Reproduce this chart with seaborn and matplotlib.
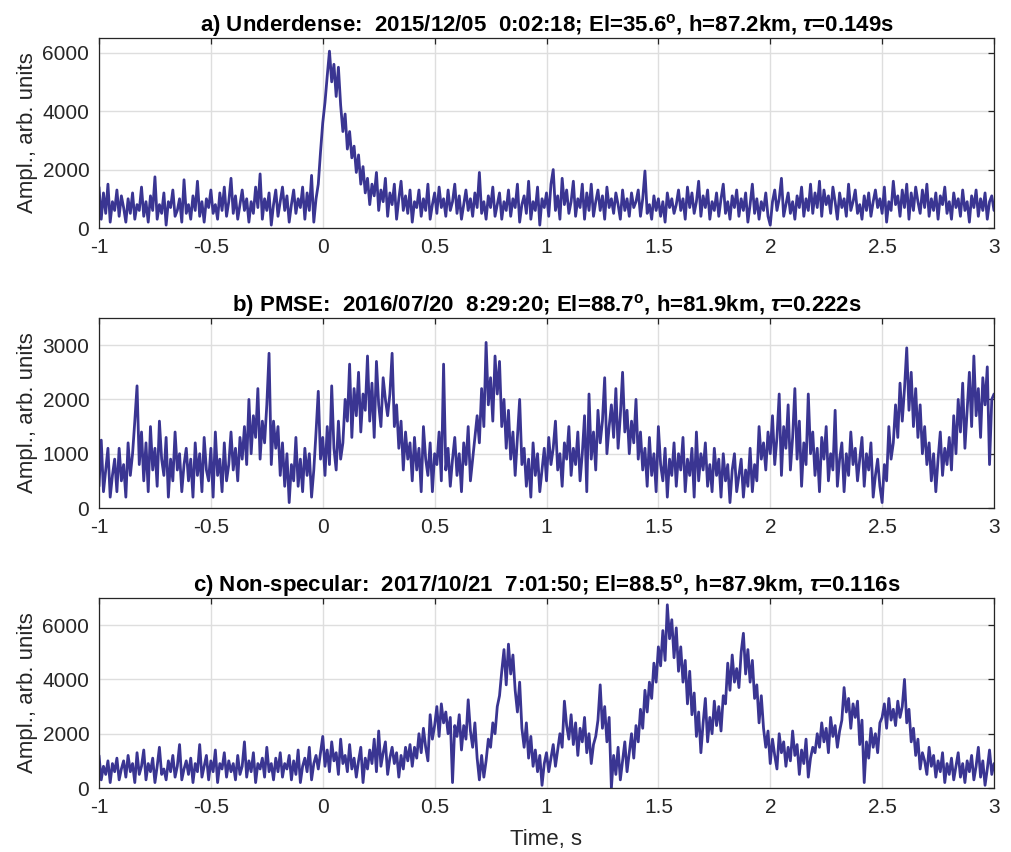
import numpy as np
import pandas as pd
import matplotlib
matplotlib.use("Agg")
import matplotlib.pyplot as plt
import seaborn as sns

# ---------------- data (0.01 s step from -1 s) -------------
time_start = -1.0
time_step = 0.01

ampl_underdense = [
    1400, 300, 1200, 500, 1500, 200, 900, 600, 1300, 400, 1100, 700, 200, 1000, 500, 1200, 300, 800, 600, 1400,
    400, 900, 200, 1100, 600, 1750, 300, 800, 500, 1200, 100, 900, 700, 1300, 400, 600, 1000, 200, 1650, 500,
    800, 300, 1100, 600, 1600, 400, 900, 200, 1000, 700, 1300, 500, 800, 300, 1200, 600, 1400, 400, 900, 1700,
    500, 1100, 300, 800, 1300, 600, 1000, 200, 900, 500, 1400, 700, 1850, 300, 1000, 600, 1200, 100, 800, 1300,
    400, 900, 1400, 600, 1100, 200, 800, 1300, 500, 1000, 700, 1400, 300, 1200, 600, 1800, 200, 1000, 1500, 2600,
    3600, 4300, 5200, 6050, 5000, 5600, 4500, 5500, 4200, 3300, 3900, 2700, 3300, 2400, 2800, 1900, 2500, 1500, 2100, 1200,
    1700, 800, 1500, 1100, 1900, 600, 1300, 900, 1700, 400, 1200, 800, 1500, 300, 1000, 1600, 600, 1100, 500, 1300,
    200, 900, 700, 1300, 400, 1000, 600, 1500, 300, 800, 1200, 500, 1400, 700, 1000, 400, 1300, 600, 900, 1500,
    500, 1100, 300, 800, 1300, 600, 1000, 400, 1200, 700, 1900, 500, 900, 300, 1100, 700, 1400, 400, 800, 1200,
    300, 900, 600, 1300, 400, 1000, 700, 1500, 200, 800, 1100, 500, 1600, 300, 900, 600, 1400, 100, 1000, 700,
    1200, 400, 1500, 2000, 600, 1100, 300, 1700, 800, 1300, 500, 900, 1600, 400, 1000, 700, 1500, 300, 1200, 600,
    1500, 400, 900, 1300, 600, 1100, 300, 1400, 700, 1000, 500, 1200, 800, 300, 1300, 600, 1000, 400, 1200, 700,
    900, 1300, 400, 1000, 1950, 500, 800, 300, 1100, 600, 1000, 400, 900, 200, 1200, 700, 1000, 500, 800, 1300,
    600, 1000, 300, 1400, 700, 1200, 500, 900, 1600, 400, 1100, 700, 1300, 300, 900, 600, 1200, 400, 1000, 1500,
    500, 900, 300, 1100, 700, 1300, 400, 1000, 600, 1200, 200, 800, 1500, 500, 1000, 300, 900, 600, 1200, 400,
    100, 900, 1300, 600, 1000, 1700, 400, 800, 1200, 500, 900, 300, 1100, 700, 1400, 400, 1000, 600, 1500, 500,
    1200, 700, 1600, 400, 1300, 800, 1100, 500, 1400, 900, 300, 1200, 700, 1000, 400, 1500, 600, 900, 1300, 500,
    800, 300, 1100, 600, 1200, 400, 900, 1300, 700, 1000, 500, 1400, 200, 900, 600, 1600, 800, 1100, 400, 1300,
    700, 1500, 300, 1200, 600, 1400, 900, 500, 1300, 700, 1500, 400, 1000, 600, 1200, 300, 1100, 800, 1400, 500,
    900, 300, 1200, 700, 1000, 400, 1300, 600, 900, 200, 1100, 700, 1300, 400, 1000, 600, 1200, 300, 900, 1100,
    600,
]

ampl_pmse = [
    400, 1250, 300, 700, 1100, 200, 600, 900, 300, 1100, 500, 800, 200, 1200, 600, 1000, 1600, 2250, 800, 1400,
    500, 1200, 300, 1500, 700, 1100, 400, 1600, 900, 600, 1300, 200, 900, 500, 1400, 700, 1000, 300, 800, 1100,
    500, 900, 200, 1200, 600, 1000, 300, 1300, 700, 500, 1100, 200, 1400, 600, 900, 300, 1200, 500, 800, 1400,
    700, 1100, 500, 1300, 900, 1500, 800, 2000, 1000, 1700, 1300, 2200, 900, 1600, 1200, 1900, 2850, 800, 1600, 1100,
    1500, 600, 1200, 400, 1000, 100, 800, 500, 1300, 400, 900, 300, 1100, 600, 1000, 200, 700, 1400, 2150, 900,
    1300, 600, 1500, 800, 2250, 1100, 700, 1600, 900, 1200, 2000, 1600, 2650, 1300, 2200, 1700, 2500, 1400, 2100, 1800,
    2800, 1600, 2300, 1300, 2700, 1900, 1500, 2400, 2000, 1700, 2100, 2850, 1500, 1900, 1100, 1600, 700, 1400, 900, 1200,
    500, 1300, 700, 1100, 300, 1500, 900, 600, 1200, 300, 1000, 800, 1400, 500, 2650, 700, 1100, 400, 900, 1300,
    600, 1000, 300, 1200, 800, 1500, 500, 900, 1300, 1700, 1200, 2200, 1500, 3050, 1900, 2400, 1600, 2800, 2100, 2700,
    1500, 2000, 1100, 1800, 900, 1400, 600, 1300, 2000, 800, 1100, 400, 900, 200, 1200, 600, 1000, 300, 700, 1100,
    500, 1300, 800, 1100, 1600, 700, 1000, 400, 1200, 900, 1500, 600, 1100, 800, 1400, 500, 1000, 1700, 300, 2100,
    900, 1400, 700, 1800, 1200, 1600, 2400, 1000, 1500, 1900, 1300, 2200, 1100, 1700, 2500, 1400, 1800, 1000, 1600, 1200,
    2000, 900, 1400, 700, 1100, 400, 1300, 600, 1000, 300, 1500, 800, 500, 1100, 200, 900, 600, 1200, 400, 1000,
    700, 1300, 300, 900, 600, 1100, 200, 1400, 500, 1000, 700, 1200, 400, 800, 300, 1100, 600, 900, 200, 1000,
    500, 800, 100, 700, 1000, 300, 600, 900, 200, 700, 400, 1100, 300, 800, 500, 1500, 900, 1200, 700, 1400,
    1000, 1700, 800, 1300, 2100, 600, 1500, 1100, 1900, 700, 1300, 2200, 900, 1600, 400, 1200, 800, 2100, 1000, 1400,
    600, 1100, 300, 1300, 900, 1500, 500, 1000, 700, 1800, 400, 900, 1200, 300, 1000, 600, 1400, 800, 1100, 500,
    900, 1300, 400, 1000, 700, 1200, 200, 600, 900, 400, 100, 800, 500, 1500, 900, 1200, 1900, 1300, 2300, 1600,
    2200, 2950, 1800, 2500, 1500, 2200, 1300, 1900, 1000, 1500, 800, 1200, 500, 1000, 300, 900, 1400, 600, 1100, 800,
    1300, 700, 1700, 1000, 2000, 1400, 2300, 1100, 1800, 2500, 1500, 2800, 1700, 2200, 1300, 2400, 1900, 2600, 800, 2000,
    2100,
]

ampl_nonspecular = [
    1200, 300, 800, 500, 1000, 200, 900, 600, 1100, 300, 700, 1000, 400, 1200, 600, 900, 200, 1300, 500, 800,
    1400, 300, 900, 600, 1100, 200, 800, 1500, 500, 700, 300, 1000, 600, 1200, 400, 800, 1600, 300, 700, 1000,
    500, 1100, 200, 900, 600, 1600, 400, 800, 1200, 300, 1000, 600, 1400, 200, 900, 700, 1300, 400, 1000, 600,
    900, 300, 1200, 500, 800, 1700, 400, 1000, 600, 1300, 200, 900, 700, 1100, 400, 1500, 600, 900, 300, 1100,
    600, 1300, 400, 900, 700, 1200, 300, 1000, 500, 1400, 200, 800, 1100, 600, 1500, 300, 900, 1200, 700, 1300,
    1900, 800, 1400, 600, 1700, 1000, 1300, 500, 1800, 900, 1200, 600, 1600, 700, 1100, 400, 1000, 1500, 200, 1100,
    700, 1400, 900, 1800, 600, 2100, 800, 1300, 1700, 500, 1100, 1500, 900, 1300, 400, 1200, 700, 1500, 1000, 1600,
    800, 1500, 1100, 2000, 1300, 2200, 1500, 1000, 2700, 1800, 2300, 3000, 1900, 3100, 2400, 2800, 2000, 2600, 200, 2300,
    1900, 2700, 1400, 2300, 1800, 3250, 2100, 1500, 2400, 1100, 300, 1200, 400, 1000, 1800, 1500, 2400, 2000, 3000, 3400,
    4300, 5100, 3800, 5300, 4200, 4900, 3600, 2800, 3900, 2200, 1500, 2400, 1100, 1900, 800, 1400, 600, 1200, 100, 900,
    1300, 600, 1100, 1600, 800, 1400, 2000, 1500, 3200, 2300, 1800, 2700, 1600, 2400, 1200, 2200, 1700, 2600, 1300, 2000,
    900, 1600, 1900, 2500, 3800, 2200, 3000, 1700, 2600, 0, 1200, 500, 1500, 300, 1000, 1700, 600, 1300, 2000, 1100,
    2300, 1700, 2900, 2200, 3600, 2800, 3900, 3300, 4600, 3900, 5200, 4500, 5800, 4700, 6750, 5500, 6200, 4800, 5900, 4300,
    5200, 3900, 4700, 3100, 4300, 2700, 3500, 1900, 2800, 1300, 2400, 3300, 1700, 2600, 2000, 3200, 2300, 3000, 2100, 3400,
    3100, 4600, 3600, 4900, 3900, 4400, 3700, 5000, 5700, 4200, 5100, 3900, 4700, 3300, 3800, 2400, 3400, 2200, 1500, 2100,
    900, 1800, 1200, 700, 2000, 1300, 1700, 800, 1500, 1000, 2100, 1200, 1600, 500, 1400, 900, 1800, 400, 1100, 1500,
    1300, 2000, 1500, 2400, 1700, 2200, 1300, 2600, 1900, 2300, 1500, 2100, 2500, 3700, 2800, 3300, 2200, 3100, 2600, 3200,
    1600, 2500, 200, 1700, 1100, 2200, 1500, 2000, 1300, 2400, 2600, 3100, 2200, 3300, 2500, 2900, 2300, 3200, 2600, 3000,
    4000, 2400, 2900, 1700, 2200, 1200, 1800, 700, 1300, 1000, 500, 1500, 800, 1200, 400, 1000, 600, 1300, 200, 900,
    500, 1100, 300, 800, 1300, 400, 900, 200, 1000, 600, 1200, 300, 800, 1500, 400, 1000, 100, 700, 1400, 500,
    900,
]

panel_titles = [
    r"a) Underdense:  2015/12/05  0:02:18; El=35.6$^{\mathbf{o}}$, h=87.2km, $\tau$=0.149s",
    r"b) PMSE:  2016/07/20  8:29:20; El=88.7$^{\mathbf{o}}$, h=81.9km, $\tau$=0.222s",
    r"c) Non-specular:  2017/10/21  7:01:50; El=88.5$^{\mathbf{o}}$, h=87.9km, $\tau$=0.116s",
]
y_max = [6500, 3500, 7000]
y_ticks = [[0, 2000, 4000, 6000], [0, 1000, 2000, 3000], [0, 2000, 4000, 6000]]
x_ticks = [-1, -0.5, 0, 0.5, 1, 1.5, 2, 2.5, 3]
x_tick_labels = ["-1", "-0.5", "0", "0.5", "1", "1.5", "2", "2.5", "3"]
y_label = "Ampl., arb. units"
x_label = "Time, s"

# ---------------- style ----------------
sns.set_theme(style="white")
plt.rcParams["font.family"] = ["Liberation Sans", "DejaVu Sans"]
plt.rcParams["mathtext.fontset"] = "custom"
plt.rcParams["mathtext.rm"] = "Liberation Sans:bold"
plt.rcParams["mathtext.it"] = "Liberation Sans:italic:bold"
plt.rcParams["mathtext.bf"] = "Liberation Sans:bold"

line_color = "#3a3592"
axis_color = "#262626"

fig = plt.figure(figsize=(10.12, 8.52), dpi=100)
left, width, height = 99 / 1012, 895 / 1012, 190 / 852
bottoms = [1 - 228 / 852, 1 - 508 / 852, 1 - 788 / 852]

series = [ampl_underdense, ampl_pmse, ampl_nonspecular]
for i, vals in enumerate(series):
    ax = fig.add_axes([left, bottoms[i], width, height])
    df = pd.DataFrame({"t": time_start + time_step * np.arange(len(vals)),
                       "ampl": np.asarray(vals, dtype=float)})
    sns.lineplot(data=df, x="t", y="ampl", ax=ax, color=line_color,
                 linewidth=2.0, estimator=None)
    ax.set_xlim(-1, 3)
    ax.set_ylim(0, y_max[i])
    ax.set_xticks(x_ticks)
    ax.set_xticklabels(x_tick_labels)
    ax.set_yticks(y_ticks[i])
    ax.set_yticklabels([str(v) for v in y_ticks[i]])
    ax.grid(True, color="#dedede", linewidth=1.0)
    ax.set_axisbelow(True)
    for sp in ax.spines.values():
        sp.set_visible(True)
        sp.set_color(axis_color)
        sp.set_linewidth(0.9)
    ax.tick_params(direction="in", top=True, right=True, length=4.5, width=0.9,
                   color=axis_color, labelcolor=axis_color, labelsize=15)
    ax.tick_params(axis="x", pad=7)
    ax.tick_params(axis="y", pad=7)
    ax.set_ylabel(y_label, fontsize=16, color=axis_color)
    ax.yaxis.set_label_coords(-0.068, 0.5)
    if i == 2:
        ax.set_xlabel(x_label, fontsize=16, color=axis_color, labelpad=9)
    else:
        ax.set_xlabel("")
    ax.set_title(panel_titles[i], fontsize=16, fontweight="bold", color="black", pad=5)

fig.savefig("out.png", dpi=100)
